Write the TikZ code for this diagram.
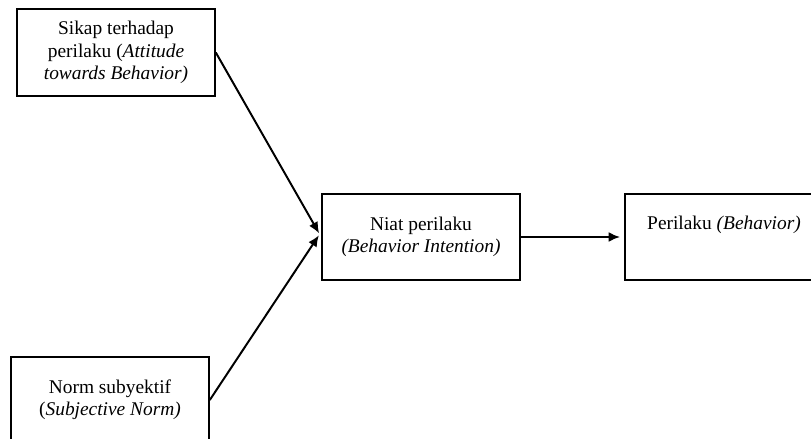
\documentclass[tikz,border=0pt]{standalone}
\usepackage{fontspec}
\setmainfont{Liberation Serif}
\usetikzlibrary{arrows.meta, positioning}
\def\boxwidth{4.95cm}

\begin{document}
\begin{tikzpicture}[x=0.025cm, y=-0.025cm, ->, >={Latex[length=8pt,width=7pt]}, shorten >=3pt, line width=1.4pt]
    \tikzstyle{factor}=[rectangle, draw=black, line width=1.1pt, minimum width=\boxwidth, minimum height=2.15cm, align=center, inner sep=2pt, font=\fontsize{13.8}{15.8}\selectfont]

    \useasboundingbox (0,0) rectangle (811,439);
    \clip (0,0) rectangle (811,439);

    % Draw the factor boxes
    \node[factor, minimum height=2.175cm] (sikap) at (116,52.5) {Sikap terhadap\\perilaku (\textit{Attitude}\\\textit{towards Behavior)}};
    \node[factor] (norm) at (110,400) {Norm subyektif\\(\textit{Subjective Norm)}};
    \node[factor] (niat) at (421,237) {Niat perilaku\\\textit{(Behavior Intention)}};
    \node[factor, text height=9pt, text depth=20pt] (perilaku) at (724,237) {Perilaku \textit{(Behavior)}};

    % Draw the arrows
    \draw (sikap.east) -- (niat.west);
    \draw (norm.east) -- ([yshift=0.13cm]niat.west);
    \draw (niat.east) -- (perilaku.west);
\end{tikzpicture}
\end{document}
